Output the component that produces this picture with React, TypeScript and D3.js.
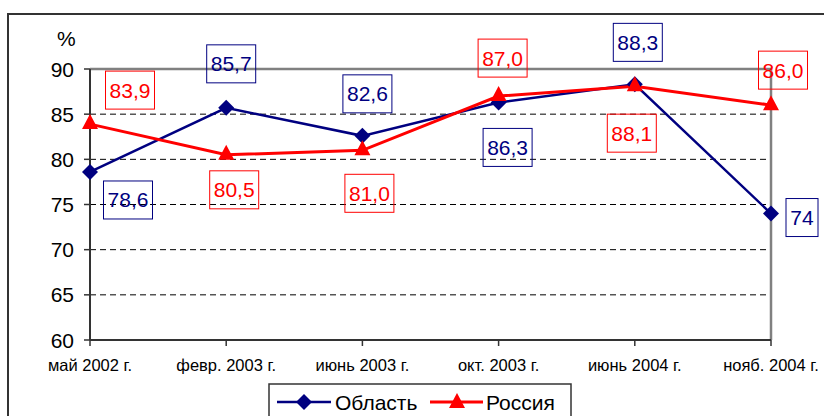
import * as d3 from "d3";

const categories = [
  "май 2002 г.",
  "февр. 2003 г.",
  "июнь 2003 г.",
  "окт. 2003 г.",
  "июнь 2004 г.",
  "нояб. 2004 г.",
];
const oblastValues = [78.6, 85.7, 82.6, 86.3, 88.3, 74];
const russiaValues = [83.9, 80.5, 81.0, 87.0, 88.1, 86.0];
const oblastLabels = ["78,6", "85,7", "82,6", "86,3", "88,3", "74"];
const russiaLabels = ["83,9", "80,5", "81,0", "87,0", "88,1", "86,0"];
const yTicks = [60, 65, 70, 75, 80, 85, 90];

// label box offsets from the point (centre of the box)
const oblastOffsets = [
  [38, 28],
  [5, -44],
  [5, -42],
  [9, 45],
  [3, -42],
  [31, 4],
];
const russiaOffsets = [
  [40, -34],
  [8, 35],
  [7, 43],
  [4, -38],
  [-3, 47],
  [12, -35],
];

const BLUE = "#000080";
const RED = "#ff0000";
const FONT = "'Liberation Sans', Arial, sans-serif";

export default function App() {
  const left = 90;
  const right = 771;
  const top = 69;
  const bottom = 340;

  const x = d3.scalePoint<string>().domain(categories).range([left, right]);
  const y = d3.scaleLinear().domain([60, 90]).range([bottom, top]);

  const line = d3
    .line<number>()
    .x((d, i) => x(categories[i]) as number)
    .y((d) => y(d));

  const diamond = (cx: number, cy: number) =>
    `M${cx},${cy - 8}L${cx + 8},${cy}L${cx},${cy + 8}L${cx - 8},${cy}Z`;
  const triangle = (cx: number, cy: number) =>
    `M${cx},${cy - 10}L${cx + 8},${cy + 5}L${cx - 8},${cy + 5}Z`;

  const labelBox = (
    txt: string,
    cx: number,
    cy: number,
    color: string,
    key: string
  ) => {
    const w = txt.length === 2 ? 32 : 49;
    const h = 38;
    return (
      <g key={key}>
        <rect
          x={cx - w / 2}
          y={cy - h / 2}
          width={w}
          height={h}
          fill="none"
          stroke={color}
          strokeWidth={1}
        />
        <text
          x={cx}
          y={cy + 7.5}
          textAnchor="middle"
          fontSize={21}
          fill={color}
          fontFamily={FONT}
        >
          {txt}
        </text>
      </g>
    );
  };

  return (
    <svg
      width={824}
      height={416}
      style={{ position: "absolute", left: 0, top: 0, background: "#fff" }}
    >
      {/* outer chart frame */}
      <rect x={8} y={14} width={900} height={500} fill="#fff" stroke="#333" strokeWidth={2} />

      {/* gridlines */}
      {yTicks
        .filter((t) => t > 60 && t < 90)
        .map((t) => (
          <line
            key={"g" + t}
            x1={left}
            x2={right}
            y1={y(t)}
            y2={y(t)}
            stroke="#000"
            strokeWidth={1}
            strokeDasharray="6,4"
          />
        ))}

      {/* plot area border: top and right gray */}
      <line x1={left} x2={right} y1={top} y2={top} stroke="#808080" strokeWidth={2.5} />
      <line x1={right} x2={right} y1={top} y2={bottom} stroke="#808080" strokeWidth={2.5} />

      {/* axes */}
      <line x1={left} x2={right} y1={bottom} y2={bottom} stroke="#333" strokeWidth={2} />
      <line x1={left} x2={left} y1={top} y2={bottom} stroke="#333" strokeWidth={2} />
      {yTicks.map((t) => (
        <g key={"y" + t}>
          <line x1={left - 6} x2={left} y1={y(t)} y2={y(t)} stroke="#333" strokeWidth={1.5} />
          <text
            x={left - 16}
            y={y(t) + 7.5}
            textAnchor="end"
            fontSize={21}
            fontFamily={FONT}
            fill="#000"
          >
            {t}
          </text>
        </g>
      ))}
      <text x={57} y={46} fontSize={21} fontFamily={FONT} fill="#000">
        %
      </text>
      {categories.map((c) => (
        <g key={c}>
          <line
            x1={x(c)}
            x2={x(c)}
            y1={bottom}
            y2={bottom + 6}
            stroke="#333"
            strokeWidth={1.5}
          />
          <text
            x={x(c)}
            y={371}
            textAnchor="middle"
            fontSize={16.5}
            fontFamily={FONT}
            fill="#000"
          >
            {c}
          </text>
        </g>
      ))}

      {/* series */}
      <path d={line(oblastValues) as string} fill="none" stroke={BLUE} strokeWidth={2.5} />
      <path d={line(russiaValues) as string} fill="none" stroke={RED} strokeWidth={3} />
      {oblastValues.map((v, i) => (
        <path key={"d" + i} d={diamond(x(categories[i]) as number, y(v))} fill={BLUE} />
      ))}
      {russiaValues.map((v, i) => (
        <path key={"t" + i} d={triangle(x(categories[i]) as number, y(v))} fill={RED} />
      ))}

      {/* data labels */}
      {oblastValues.map((v, i) =>
        labelBox(
          oblastLabels[i],
          (x(categories[i]) as number) + oblastOffsets[i][0],
          y(v) + oblastOffsets[i][1],
          BLUE,
          "ol" + i
        )
      )}
      {russiaValues.map((v, i) =>
        labelBox(
          russiaLabels[i],
          (x(categories[i]) as number) + russiaOffsets[i][0],
          y(v) + russiaOffsets[i][1],
          RED,
          "rl" + i
        )
      )}

      {/* legend */}
      <rect x={269} y={384} width={302} height={60} fill="#fff" stroke="#333" strokeWidth={1.5} />
      <line x1={277} x2={331} y1={402} y2={402} stroke={BLUE} strokeWidth={2.5} />
      <path d={diamond(304, 402)} fill={BLUE} />
      <text x={335} y={409.5} fontSize={21} fontFamily={FONT} fill="#000">
        Область
      </text>
      <line x1={430} x2={483} y1={402} y2={402} stroke={RED} strokeWidth={3} />
      <path d={triangle(457, 403)} fill={RED} />
      <text x={486} y={409.5} fontSize={21} fontFamily={FONT} fill="#000">
        Россия
      </text>
    </svg>
  );
}
